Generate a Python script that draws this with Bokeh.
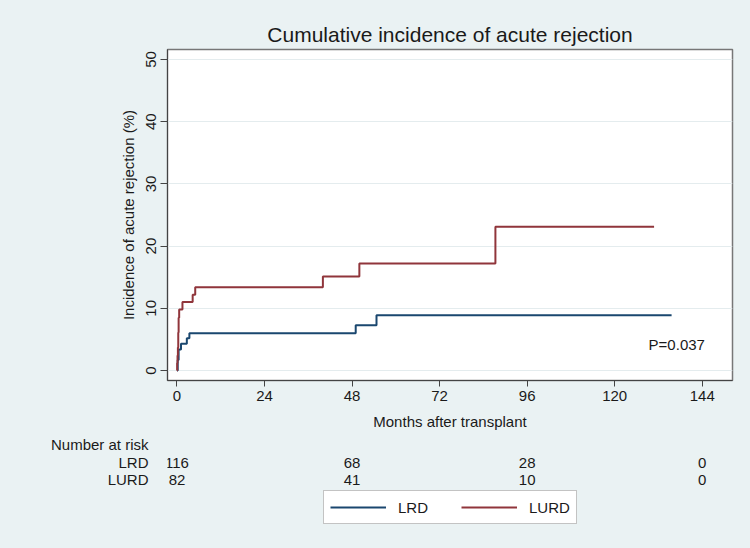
from bokeh.plotting import figure
from bokeh.layouts import column
from bokeh.models import (Range1d, Label, Legend, LegendItem, FixedTicker,
                          ColumnDataSource)
from bokeh.core.properties import value
from bokeh.embed import file_html
from bokeh.resources import INLINE

# ---------------- data ----------------
lrd_months = [0, 0.2, 0.45, 1.1, 2.7, 3.4, 49.0, 54.7, 135.6]
lrd_incidence = [0, 1.7, 3.4, 4.3, 5.2, 6.0, 7.3, 8.9, 8.9]

lurd_months = [0, 0.05, 0.15, 0.25, 0.35, 0.45, 0.6, 1.5, 4.3, 5.0, 40.0, 50.0, 87.3, 130.8]
lurd_incidence = [0, 1.2, 2.4, 3.7, 6.1, 8.5, 9.8, 11.0, 12.2, 13.4, 15.1, 17.2, 23.1, 23.1]

x_ticks = [0, 24, 48, 72, 96, 120, 144]
y_ticks = [0, 10, 20, 30, 40, 50]

risk_months = [0, 48, 96, 144]
risk_lrd = [116, 68, 28, 0]
risk_lurd = [82, 41, 10, 0]
group_names = ["LRD", "LURD"]
table_title = "Number at risk"

p_value_text = "P=0.037"

# ---------------- style ----------------
FONT = "Liberation Sans"
TXT = "#1a1a1a"
BG = "#eaf2f3"
BLUE = "#1a476f"
RED = "#90353b"

W = 734
H_MAIN = 432
H_TABLE = 100
BL, BR = 167, 2

p = figure(width=W, height=H_MAIN, output_backend="svg", toolbar_location=None,
           x_range=Range1d(-2.6, 152.3), y_range=Range1d(-1.6, 51.6),
           min_border_left=BL, min_border_right=BR, min_border_top=49,
           min_border_bottom=50,
           background_fill_color="white", border_fill_color=BG,
           outline_line_color="#777777", outline_line_width=1.5)

p.title.text = "Cumulative incidence of acute rejection"
p.title.align = "center"
p.title.text_font = FONT
p.title.text_font_size = "21px"
p.title.text_font_style = "normal"
p.title.text_color = TXT
p.title.standoff = 7

for ax in (p.xaxis[0], p.yaxis[0]):
    ax.axis_line_color = "#444444"
    ax.major_tick_line_color = "#444444"
    ax.minor_tick_line_color = None
    ax.major_tick_in = 0
    ax.major_label_text_font = FONT
    ax.major_label_text_font_size = "15px"
    ax.major_label_text_color = TXT
    ax.axis_label_text_font = FONT
    ax.axis_label_text_font_size = "15px"
    ax.axis_label_text_font_style = "normal"
    ax.axis_label_text_color = TXT

p.xaxis.ticker = FixedTicker(ticks=x_ticks)
p.yaxis.ticker = FixedTicker(ticks=y_ticks)
p.xaxis.axis_label = "Months after transplant"
p.yaxis.axis_label = "Incidence of acute rejection (%)"
p.xaxis.major_tick_out = 6
p.yaxis.major_tick_out = 7
p.xaxis.major_label_standoff = 4
p.yaxis.major_label_standoff = 4
p.xaxis.axis_label_standoff = 9
p.yaxis.axis_label_standoff = 7
p.yaxis.major_label_orientation = "vertical"

p.xgrid.grid_line_color = None
p.ygrid.grid_line_color = "#e4ecee"
p.ygrid.grid_line_width = 1

p.step(x=lrd_months, y=lrd_incidence, mode="after", line_color=BLUE, line_width=2)
p.step(x=lurd_months, y=lurd_incidence, mode="after", line_color=RED, line_width=2)

p.add_layout(Label(x=129.3, y=4.2, text=p_value_text, text_font=FONT,
                   text_font_size="15px", text_color=TXT, text_baseline="middle"))

# ---------------- number-at-risk table + legend ----------------
row_y = [12, 30, 47]   # title row, LRD row, LURD row (pixels from top of table)
t = figure(width=W, height=H_TABLE, output_backend="svg", toolbar_location=None,
           x_range=p.x_range, y_range=Range1d(H_TABLE, 0),
           x_axis_location=None,
           min_border_left=BL, min_border_right=BR, min_border_top=0,
           min_border_bottom=0, background_fill_color=BG, border_fill_color=BG,
           outline_line_color=None)
t.grid.visible = False
ya = t.yaxis[0]
ya.ticker = FixedTicker(ticks=row_y)
ya.major_label_overrides = {row_y[0]: table_title, row_y[1]: group_names[0],
                            row_y[2]: group_names[1]}
ya.axis_line_color = None
ya.major_tick_line_color = None
ya.minor_tick_line_color = None
ya.major_tick_in = 0
ya.major_tick_out = 0
ya.major_label_standoff = 19
ya.major_label_text_font = FONT
ya.major_label_text_font_size = "15px"
ya.major_label_text_color = TXT

risk_src = ColumnDataSource(dict(
    x=risk_months + risk_months,
    y=[row_y[1]] * len(risk_months) + [row_y[2]] * len(risk_months),
    t=[str(v) for v in risk_lrd] + [str(v) for v in risk_lurd]))
t.text(x="x", y="y", text="t", source=risk_src, text_font=value(FONT),
       text_font_size="15px", text_color=TXT, text_baseline="middle",
       text_align="center")

nan = float("nan")
g_lrd = t.line(x=[nan], y=[nan], line_color=BLUE, line_width=2)
g_lurd = t.line(x=[nan], y=[nan], line_color=RED, line_width=2)
legend = Legend(items=[LegendItem(label=group_names[0], renderers=[g_lrd]),
                       LegendItem(label=group_names[1], renderers=[g_lurd])],
                orientation="horizontal", location=(156, 8),
                label_text_font=FONT, label_text_font_size="15px",
                label_text_color=TXT, glyph_width=56, label_standoff=12,
                spacing=33, padding=6, margin=0,
                border_line_color="#888888", border_line_width=1,
                background_fill_color="white", background_fill_alpha=1.0)
t.add_layout(legend, "center")

layout = column(p, t, spacing=0)
html = file_html(layout, INLINE)
html = html.replace("<head>", "<head><style>html,body{background:%s;}</style>" % BG, 1)
open("out.html", "w").write(html)
